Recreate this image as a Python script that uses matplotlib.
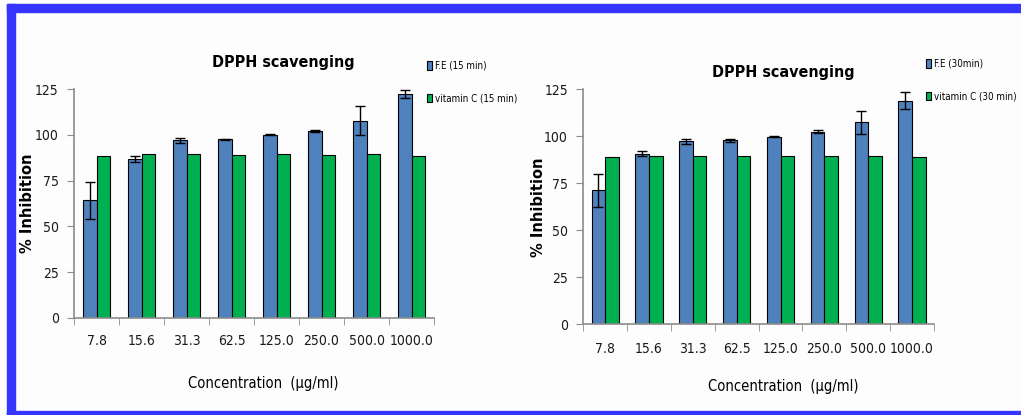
import numpy as np
import matplotlib.pyplot as plt
from matplotlib.patches import Rectangle
from matplotlib import font_manager

# Stężenia ekstraktu (µg/ml)
concentrations = ['7.8', '15.6', '31.3', '62.5', '125.0', '250.0', '500.0', '1000.0']

# % inhibicji po 15 min
fe_15 = [64.3, 86.8, 97.1, 97.7, 100.2, 102.4, 107.7, 122.6]
fe_15_err = [10.1, 1.5, 1.5, 0.3, 0.2, 0.5, 7.9, 2.2]
vitc_15 = [88.6, 89.5, 89.5, 88.8, 89.5, 88.8, 89.5, 88.6]

# % inhibicji po 30 min
fe_30 = [71.2, 90.8, 97.3, 97.9, 99.8, 102.3, 107.4, 119.0]
fe_30_err = [9.0, 1.5, 1.4, 0.8, 0.3, 0.8, 6.1, 4.7]
vitc_30 = [89.0, 89.7, 89.7, 89.7, 89.7, 89.7, 89.7, 89.0]

# wąska czcionka, jeśli jest dostępna
stretches = {(f.name, f.stretch) for f in font_manager.fontManager.ttflist}
narrow_stretch = 'condensed' if ('DejaVu Sans', 'condensed') in stretches else 'normal'
narrow = dict(family='DejaVu Sans', stretch=narrow_stretch)

blue = '#4F81BD'
green = '#00B050'
axis_grey = '#8C8C8C'

fig = plt.figure(figsize=(10.21, 4.15), dpi=100)
fig.patch.set_facecolor('#FDFDFD')

# niebieska ramka wokół rysunku
border = '#3535FF'
fig.patches.append(Rectangle((7 / 1021, 1 - 12 / 415), 1, 8 / 415, transform=fig.transFigure,
                             color=border, zorder=0))
fig.patches.append(Rectangle((7 / 1021, 0), 8 / 1021, 1 - 4 / 415, transform=fig.transFigure,
                             color=border, zorder=0))
fig.patches.append(Rectangle((7 / 1021, 0), 1, 4 / 415, transform=fig.transFigure,
                             color=border, zorder=0))


def draw_panel(rect, fe, fe_err, vitc, fe_label, vitc_label, title_xy, legend_xy, tick_pad, xlabel_xy):
    ax = fig.add_axes(rect)
    ax.set_facecolor('none')
    x = np.arange(len(concentrations))
    w = 0.31
    b1 = ax.bar(x - w / 2, fe, w, color=blue, edgecolor='black', linewidth=0.8, label=fe_label)
    ax.errorbar(x - w / 2, fe, yerr=fe_err, fmt='none', ecolor='black', elinewidth=1, capsize=3.5, capthick=1)
    b2 = ax.bar(x + w / 2, vitc, w, color=green, edgecolor='black', linewidth=0.8, label=vitc_label)

    ax.set_xlim(-0.5, len(concentrations) - 0.5)
    ax.set_ylim(0, 125)
    ax.set_yticks([0, 25, 50, 75, 100, 125])
    ax.set_xticks(x)
    ax.set_xticklabels(concentrations, fontsize=10, color='#1a1a1a', **narrow)
    ax.set_xticks(np.arange(-0.5, len(concentrations)), minor=True)
    ax.tick_params(axis='x', which='major', length=0, pad=tick_pad)
    ax.tick_params(axis='x', which='minor', length=5, color=axis_grey, direction='out')
    ax.tick_params(axis='y', length=5, color=axis_grey, direction='out', pad=6)
    for lab in ax.get_yticklabels():
        lab.set_family(narrow['family'])
        lab.set_stretch(narrow['stretch'])
        lab.set_fontsize(10)
        lab.set_color('#1a1a1a')
    for s in ['top', 'right']:
        ax.spines[s].set_visible(False)
    for s in ['left', 'bottom']:
        ax.spines[s].set_color(axis_grey)
        ax.spines[s].set_linewidth(1.2)

    ax.set_ylabel('% Inhibition', fontweight='bold', fontsize=10.5, family='DejaVu Sans')
    ax.yaxis.label.set_va('center')
    ax.yaxis.set_label_coords(-0.128, 0.5)
    ax.set_xlabel('Concentration  (µg/ml)', fontsize=10.5, **narrow)
    ax.xaxis.label.set_va('center')
    ax.xaxis.set_label_coords(*xlabel_xy)
    fig.text(title_xy[0], title_xy[1], 'DPPH scavenging', fontweight='bold', fontsize=11.5,
             ha='center', va='center', **narrow)
    fig.legend(handles=[b1, b2], loc='upper left', bbox_to_anchor=legend_xy, frameon=False,
               prop={'family': narrow['family'], 'stretch': narrow['stretch'], 'size': 7},
               handlelength=0.55, handleheight=1.0, handletextpad=0.3, labelspacing=2.3, borderpad=0)
    return ax


draw_panel([74 / 1021, 1 - 317.7 / 415, 360 / 1021, 228.4 / 415], fe_15, fe_15_err, vitc_15,
           'F.E (15 min)', 'vitamin C (15 min)', (283 / 1021, 1 - 62 / 415), (422 / 1021, 1 - 56 / 415), 12,
           (0.525, -0.286))
draw_panel([583.3 / 1021, 1 - 324.3 / 415, 350.7 / 1021, 235 / 415], fe_30, fe_30_err, vitc_30,
           'F.E (30min)', 'vitamin C (30 min)', (783 / 1021, 1 - 72 / 415), (921 / 1021, 1 - 54 / 415), 13,
           (0.569, -0.263))

plt.savefig('out.png', dpi=100, facecolor=fig.get_facecolor())
